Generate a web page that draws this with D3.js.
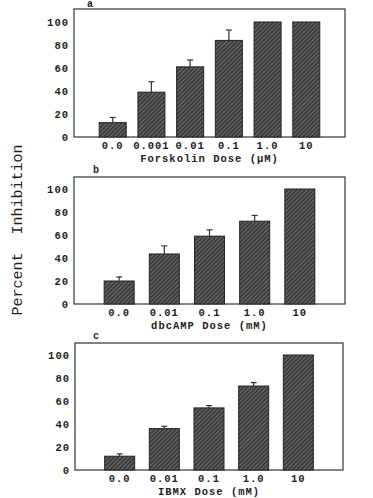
<!DOCTYPE html>
<html>
<head>
<meta charset="utf-8">
<style>
    body { margin: 0; background: #fff; }
    text { fill: #1e1e1e; }
    .tick-label { font-family: 'Liberation Mono', monospace; font-weight: bold; font-size: 10.5px; letter-spacing: 1px; }
    .axis-title { font-family: 'Liberation Mono', monospace; font-weight: bold; font-size: 10.5px; letter-spacing: 1px; }
    .panel-letter { font-family: 'Liberation Mono', monospace; font-weight: bold; font-size: 10px; }
    .y-title { font-family: 'Liberation Mono', 'Courier New', monospace; font-size: 15px; }
</style>
</head>
<body>
<svg width="373" height="498"></svg>
<script src="https://d3js.org/d3.v7.min.js"></script>
<script>
// panel a - forskolin
var forskolinDoses = ['0.0', '0.001', '0.01', '0.1', '1.0', '10'];
var forskolinMeans = [12.5, 39, 61, 84, 100, 100];
var forskolinErrs = [4.5, 9, 6, 9, 0, 0];
// panel b - dbcAMP
var dbcampDoses = ['0.0', '0.01', '0.1', '1.0', '10'];
var dbcampMeans = [20, 43.5, 59, 72, 100];
var dbcampErrs = [3.5, 7, 5.5, 5, 0];
// panel c - IBMX
var ibmxDoses = ['0.0', '0.01', '0.1', '1.0', '10'];
var ibmxMeans = [12, 36, 54, 73, 100];
var ibmxErrs = [2, 2, 2, 3, 0];

var yTicks = [0, 20, 40, 60, 80, 100];

var panels = [
    { letter: 'a', doses: forskolinDoses, means: forskolinMeans, errs: forskolinErrs,
      title: 'Forskolin Dose (\u03bcM)', top: 9, bottom: 137, left: 74, right: 345, barW: 27, letterX: 90, letterY: 7 },
    { letter: 'b', doses: dbcampDoses, means: dbcampMeans, errs: dbcampErrs,
      title: 'dbcAMP Dose (mM)', top: 177, bottom: 304, left: 74, right: 345, barW: 30, letterX: 96, letterY: 173 },
    { letter: 'c', doses: ibmxDoses, means: ibmxMeans, errs: ibmxErrs,
      title: 'IBMX Dose (mM)', top: 343, bottom: 470, left: 75, right: 343, barW: 30, letterX: 96, letterY: 339 }
];

var svg = d3.select('svg');

// hatch pattern for the bars
var defs = svg.append('defs');
var pat = defs.append('pattern')
    .attr('id', 'hatch')
    .attr('patternUnits', 'userSpaceOnUse')
    .attr('width', 3)
    .attr('height', 3)
    .attr('patternTransform', 'rotate(45)');
pat.append('rect').attr('width', 3).attr('height', 3).attr('fill', '#3c3c3c');
pat.append('line')
    .attr('x1', 0).attr('y1', 0).attr('x2', 0).attr('y2', 3)
    .attr('stroke', '#a0a0a0').attr('stroke-width', 1);

panels.forEach(function (p) {
    var n = p.doses.length;
    var x = d3.scaleLinear().domain([0, n + 1]).range([p.left, p.right]);
    var y = d3.scaleLinear().domain([0, 100]).range([p.bottom, p.bottom - 115]);
    var g = svg.append('g');

    // frame
    g.append('rect')
        .attr('x', p.left).attr('y', p.top)
        .attr('width', p.right - p.left).attr('height', p.bottom - p.top)
        .attr('fill', 'none').attr('stroke', '#333').attr('stroke-width', 1.2);

    // y tick labels
    g.selectAll('text.ytick')
        .data(yTicks)
        .enter().append('text')
        .attr('class', 'tick-label ytick')
        .attr('x', p.left - 5)
        .attr('y', function (d) { return y(d); })
        .attr('dy', '0.35em')
        .attr('text-anchor', 'end')
        .text(function (d) { return d; });

    // bars
    g.selectAll('rect.bar')
        .data(p.means)
        .enter().append('rect')
        .attr('class', 'bar')
        .attr('x', function (d, i) { return x(i + 1) - p.barW / 2; })
        .attr('y', function (d) { return y(d); })
        .attr('width', p.barW)
        .attr('height', function (d) { return y(0) - y(d); })
        .attr('fill', 'url(#hatch)')
        .attr('stroke', '#222')
        .attr('stroke-width', 1);

    // error bars
    p.means.forEach(function (m, i) {
        if (!p.errs[i]) return;
        var cx = x(i + 1);
        g.append('line')
            .attr('x1', cx).attr('x2', cx)
            .attr('y1', y(m)).attr('y2', y(m + p.errs[i]))
            .attr('stroke', '#333').attr('stroke-width', 1.2);
        g.append('line')
            .attr('x1', cx - 3).attr('x2', cx + 3)
            .attr('y1', y(m + p.errs[i])).attr('y2', y(m + p.errs[i]))
            .attr('stroke', '#333').attr('stroke-width', 1.2);
    });

    // x tick labels
    g.selectAll('text.xtick')
        .data(p.doses)
        .enter().append('text')
        .attr('class', 'tick-label xtick')
        .attr('x', function (d, i) { return x(i + 1); })
        .attr('y', p.bottom + 12)
        .attr('text-anchor', 'middle')
        .text(function (d) { return d; });

    g.append('text')
        .attr('class', 'axis-title')
        .attr('x', (p.left + p.right) / 2)
        .attr('y', p.bottom + 24.5)
        .attr('text-anchor', 'middle')
        .text(p.title);

    g.append('text')
        .attr('class', 'panel-letter')
        .attr('x', p.letterX)
        .attr('y', p.letterY)
        .attr('text-anchor', 'middle')
        .text(p.letter);
});

// shared y title
svg.append('text')
    .attr('class', 'y-title')
    .attr('transform', 'translate(22,230) rotate(-90)')
    .attr('text-anchor', 'middle')
    .attr('xml:space', 'preserve')
    .style('white-space', 'pre')
    .text('Percent  Inhibition');
</script>
</body>
</html>
